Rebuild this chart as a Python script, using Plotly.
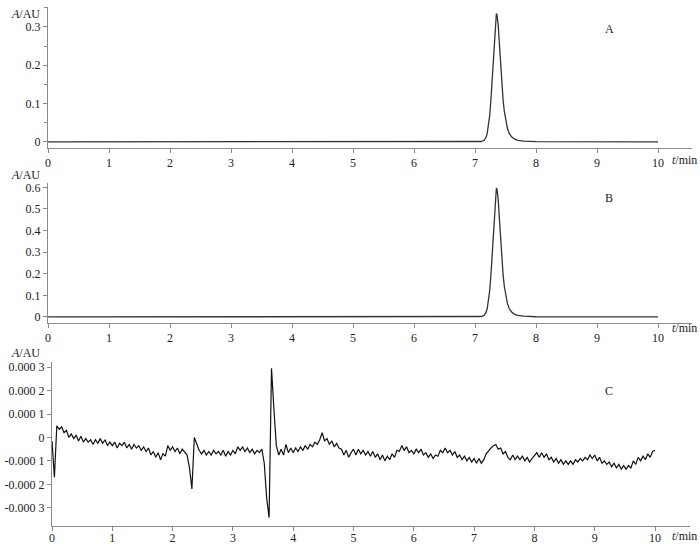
import plotly.graph_objects as go

# ---------------- data ----------------
# Panel A and B: chromatogram (time in min, absorbance in AU)
peak_time = [0.0, 7.00, 7.10, 7.15, 7.18, 7.20, 7.22, 7.24, 7.26, 7.28, 7.30, 7.32, 7.34, 7.35,
             7.36, 7.38, 7.40, 7.42, 7.44, 7.46, 7.48, 7.50, 7.53, 7.56, 7.60, 7.65, 7.70,
             7.80, 7.90, 8.00, 10.0]
a_abs = [0.0, 0.0, 0.001, 0.004, 0.012, 0.022, 0.040, 0.068, 0.108, 0.158, 0.218, 0.285, 0.330, 0.335,
         0.332, 0.305, 0.255, 0.200, 0.150, 0.110, 0.080, 0.058, 0.036, 0.022, 0.013, 0.007, 0.004,
         0.002, 0.001, 0.0005, 0.0]
b_abs = [0.0, 0.0, 0.002, 0.007, 0.021, 0.039, 0.071, 0.121, 0.192, 0.281, 0.388, 0.507, 0.588, 0.597,
         0.591, 0.543, 0.454, 0.356, 0.267, 0.196, 0.142, 0.103, 0.064, 0.039, 0.023, 0.012, 0.007,
         0.004, 0.002, 0.001, 0.0]

# Panel C: blank (values in units of 1e-4 AU), sampled every 0.04 min
c_time = [round(i * 0.04, 2) for i in range(251)]
c_abs_e4 = [
    -0.15, -1.7, 0.5, 0.35, 0.45, 0.2, 0.3, 0.0, 0.15, -0.05,
    0.1, -0.15, 0.05, -0.2, -0.05, -0.2, -0.1, -0.3, -0.1, -0.25,
    -0.05, -0.25, -0.1, -0.35, -0.2, -0.35, -0.2, -0.45, -0.25, -0.35,
    -0.2, -0.45, -0.3, -0.5, -0.3, -0.45, -0.35, -0.55, -0.4, -0.6,
    -0.45, -0.75, -0.6, -0.85, -0.65, -0.95, -0.7, -0.8, -0.35, -0.55,
    -0.4, -0.6, -0.45, -0.7, -0.5, -0.65, -0.75, -1.3, -2.2, 0.0,
    -0.25, -0.55, -0.7, -0.55, -0.75, -0.6, -0.75, -0.55, -0.7, -0.6,
    -0.75, -0.55, -0.8, -0.6, -0.75, -0.55, -0.7, -0.4, -0.55, -0.4,
    -0.6, -0.45, -0.65, -0.5, -0.7, -0.55, -0.65, -0.5, -1.1, -2.6,
    -3.42, 2.95, 1.2, -0.35, -0.75, -0.5, -0.75, -0.3, -0.65, -0.45,
    -0.65, -0.45, -0.6, -0.4, -0.55, -0.35, -0.5, -0.3, -0.4, -0.2,
    -0.3, -0.1, 0.2, -0.15, -0.05, -0.3, -0.15, -0.4, -0.25, -0.45,
    -0.5, -0.75, -0.55, -0.85, -0.65, -0.5, -0.75, -0.5, -0.7, -0.55,
    -0.75, -0.6, -0.8, -0.6, -0.85, -0.7, -0.95, -0.75, -1.0, -0.8,
    -0.95, -0.7, -0.85, -0.55, -0.6, -0.35, -0.55, -0.4, -0.65, -0.55,
    -0.7, -0.5, -0.65, -0.5, -0.75, -0.65, -0.85, -0.7, -0.9, -0.75,
    -0.8, -0.55, -0.65, -0.45, -0.65, -0.55, -0.75, -0.6, -0.85, -0.75,
    -0.95, -0.8, -1.0, -0.85, -1.05, -0.9, -1.1, -0.9, -1.1, -0.95,
    -0.7, -0.55, -0.45, -0.35, -0.3, -0.5, -0.45, -0.7, -0.6, -0.85,
    -0.95, -0.75, -0.95, -0.8, -0.95, -0.8, -1.0, -0.85, -1.05, -0.9,
    -0.75, -0.65, -0.85, -0.65, -0.85, -0.7, -0.95, -0.85, -1.05, -0.9,
    -1.1, -0.95, -1.15, -1.0, -1.15, -1.0, -1.15, -0.95, -1.05, -0.9,
    -1.0, -0.85, -0.95, -0.75, -0.9, -0.75, -1.0, -0.85, -1.1, -1.0,
    -1.15, -1.05, -1.25, -1.1, -1.3, -1.15, -1.35, -1.2, -1.35, -1.2,
    -1.3, -1.0, -1.15, -0.85, -1.0, -0.8, -0.95, -0.7, -0.85, -0.6,
    -0.55,
]
c_abs = [v * 1e-4 for v in c_abs_e4]

x_ticks = [0, 1, 2, 3, 4, 5, 6, 7, 8, 9, 10]
a_yticks = [0, 0.1, 0.2, 0.3]
b_yticks = [0, 0.1, 0.2, 0.3, 0.4, 0.5, 0.6]
c_yticks = [3e-4, 2e-4, 1e-4, 0, -1e-4, -2e-4, -3e-4]
c_yticktext = ["0.000 3", "0.000 2", "0.000 1", "0", "-0.000 1", "-0.000 2", "-0.000 3"]
panel_labels = ["A", "B", "C"]

# ---------------- figure ----------------
W, H = 700, 544
FONT = "Liberation Serif"
AXC = "#8a8a8a"


def px(x):
    return min(max(x / W, 0.0), 1.0)


def py(y):
    return min(max(1 - y / H, 0.0), 1.0)


fig = go.Figure()
fig.add_trace(go.Scatter(x=peak_time, y=a_abs, mode="lines",
                         line=dict(color="#333333", width=1.3), xaxis="x", yaxis="y",
                         showlegend=False))
fig.add_trace(go.Scatter(x=peak_time, y=b_abs, mode="lines",
                         line=dict(color="#333333", width=1.3), xaxis="x2", yaxis="y2",
                         showlegend=False))
fig.add_trace(go.Scatter(x=c_time, y=c_abs, mode="lines",
                         line=dict(color="#111111", width=1.2), xaxis="x3", yaxis="y3",
                         showlegend=False))

common_x = dict(showgrid=False, zeroline=False, showline=True, linecolor=AXC, linewidth=1,
                ticks="outside", ticklen=4, tickcolor=AXC, tickvals=x_ticks,
                tickfont=dict(family=FONT, size=12, color="#222"))
common_y = dict(showgrid=False, zeroline=False, showline=True, linecolor=AXC, linewidth=1,
                ticks="outside", ticklen=4, tickcolor=AXC,
                tickfont=dict(family=FONT, size=12, color="#222"))

fig.update_layout(
    width=W, height=H,
    margin=dict(l=0, r=0, t=0, b=0, autoexpand=False),
    paper_bgcolor="white", plot_bgcolor="white",
    xaxis=dict(domain=[px(48), px(692)], range=[0, 10.557], anchor="y", **common_x),
    yaxis=dict(domain=[py(148), py(7)], range=[-0.016, 0.352], anchor="x",
               tickvals=a_yticks, minor=dict(dtick=0.05, ticks="outside", ticklen=3, tickcolor=AXC),
               **common_y),
    xaxis2=dict(domain=[px(48), px(692)], range=[0, 10.557], anchor="y2", **common_x),
    yaxis2=dict(domain=[py(323), py(183)], range=[-0.028, 0.62], anchor="x2",
                tickvals=b_yticks, **common_y),
    xaxis3=dict(domain=[px(52), px(690)], range=[0, 10.58], anchor="y3",
                ticklabelstandoff=-3, **common_x),
    yaxis3=dict(domain=[py(526), py(362)], range=[-3.78e-4, 3.22e-4], anchor="x3",
                tickvals=c_yticks, ticktext=c_yticktext, **common_y),
)

ann_font = dict(family=FONT, size=12, color="#222")


def label(x, y, text):
    fig.add_annotation(x=px(x), y=py(y), xref="paper", yref="paper", text=text,
                       xanchor="center", yanchor="middle", showarrow=False, font=ann_font)


# y-axis titles
for yy in [14, 175, 353]:
    label(25, yy, "<i>A</i>/AU")
# x-axis titles
for yy in [160, 328, 536]:
    label(684, yy, "<i>t</i>/min")
# panel letters
for lab, yy in zip(panel_labels, [29, 198, 391]):
    label(609, yy, lab)

fig.write_html(
    "out.html",
    config={"displayModeBar": False},
    post_script="document.body.style.margin='0px';document.body.style.overflow='hidden';",
)
